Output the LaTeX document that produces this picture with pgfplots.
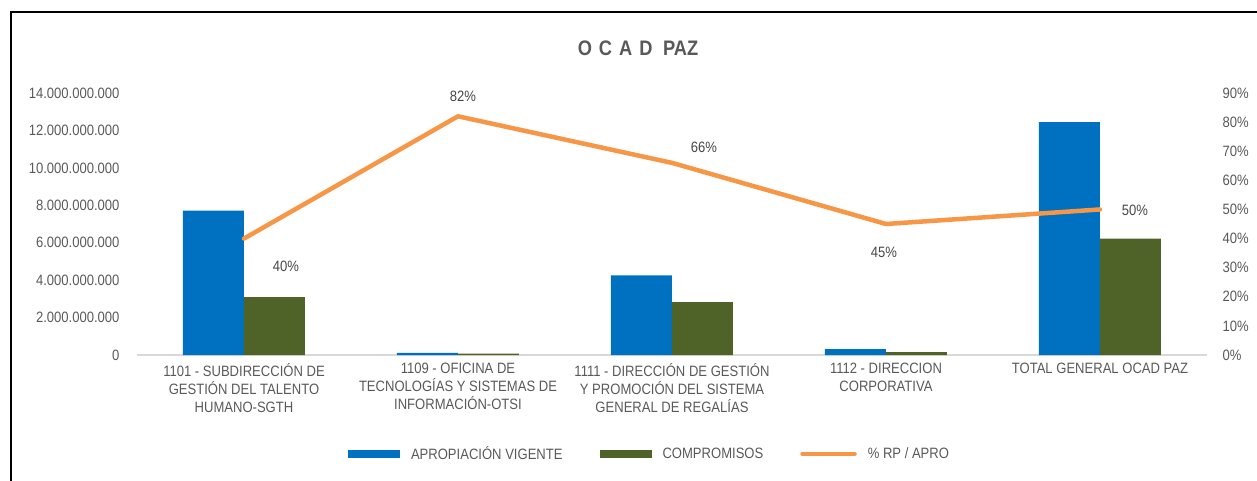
\documentclass[border=0pt]{standalone}
\usepackage{fontspec}
\setmainfont{Liberation Sans}[FakeStretch=0.87]
\usepackage{pgfplots}
\pgfplotsset{compat=1.18}
\usepackage{pgfplotstable}

\definecolor{barblue}{HTML}{0070C0}
\definecolor{bargreen}{HTML}{4F6228}
\definecolor{lineorange}{HTML}{F79646}
\definecolor{txtgray}{HTML}{595959}
\definecolor{axgray}{HTML}{D9D9D9}

% values per category (x = 0..4)
\pgfplotstableread{
x  apro        comp
0  7710000000  3090000000
1  110000000   70000000
2  4260000000  2820000000
3  320000000   150000000
4  12450000000 6220000000
}\bars

% % RP / APRO with label offsets (bp)
\pgfplotstableread{
x  pct  dx  dy
0  40   42  -28
1  82   5   20
2  66   32  16
3  45   -2  -28
4  50   35  -1
}\ratio

\pgfplotsset{
  common/.style={
    scale only axis, width=1070bp, height=262bp,
    xmin=-0.5, xmax=4.5,
    font=\fontsize{15bp}{18bp}\selectfont,
    tick label style={text=txtgray},
    major tick length=0pt,
    /pgf/number format/assume math mode=true,
  },
}

\begin{document}
\begin{tikzpicture}
\begin{axis}[common, name=main,
  ymin=0, ymax=14000000000,
  scaled y ticks=false,
  ytick={0,2000000000,4000000000,6000000000,8000000000,10000000000,12000000000,14000000000},
  yticklabels={0,2.000.000.000,4.000.000.000,6.000.000.000,8.000.000.000,10.000.000.000,12.000.000.000,14.000.000.000},
  yticklabel style={xshift=-14bp},
  xtick={0,1,2,3,4},
  xticklabels={{1101 - SUBDIRECCIÓN DE\\GESTIÓN DEL TALENTO\\HUMANO-SGTH},
    {1109 - OFICINA DE\\TECNOLOGÍAS Y SISTEMAS DE\\INFORMACIÓN-OTSI},
    {1111 - DIRECCIÓN DE GESTIÓN\\Y PROMOCIÓN DEL SISTEMA\\GENERAL DE REGALÍAS},
    {1112 - DIRECCION\\CORPORATIVA},
    {TOTAL GENERAL OCAD PAZ}},
  xticklabel style={align=center, yshift=-5bp, font=\fontsize{15bp}{18bp}\selectfont},
  axis y line*=left, axis x line*=bottom,
  y axis line style={draw=none},
  x axis line style={draw=axgray, line width=1.5bp, -},
  ybar, bar width=61bp,
  legend columns=3,
  legend style={draw=none, fill=none, at={(0.479,-0.377)}, anchor=center,
    font=\fontsize{15bp}{18bp}\selectfont, text=txtgray,
    /tikz/every odd column/.append style={column sep=9bp},
    /tikz/every even column/.append style={column sep=35bp}},
  clip=false,
]
\addplot[fill=barblue, draw=none, bar shift=-30.5bp,
  legend image code/.code={\fill[barblue] (0bp,-4bp) rectangle (52bp,4bp);}]
  table[x=x, y=apro] {\bars};
\addlegendentry{APROPIACIÓN VIGENTE}
\addplot[fill=bargreen, draw=none, bar shift=30.5bp,
  legend image code/.code={\fill[bargreen] (0bp,-4bp) rectangle (52bp,4bp);}]
  table[x=x, y=comp] {\bars};
\addlegendentry{COMPROMISOS}
\addlegendimage{legend image code/.code={\draw[lineorange, line width=4.5bp, line cap=round] (0bp,0bp) -- (52bp,0bp);}}
\addlegendentry{\% RP / APRO}
\end{axis}

\begin{axis}[common,
  ymin=0, ymax=90,
  ytick={0,10,...,90},
  yticklabel={\pgfmathprintnumber{\tick}\%},
  yticklabel style={anchor=west, xshift=12bp},
  axis y line*=right, axis x line=none,
  y axis line style={draw=none},
  xtick=\empty,
  clip=false,
]
\addplot[lineorange, line width=4.5bp, line cap=round, line join=round,
  nodes near coords={\pgfmathprintnumber{\pgfplotspointmeta}\%},
  point meta=explicit,
  visualization depends on={\thisrow{dx} \as \dx},
  visualization depends on={\thisrow{dy} \as \dy},
  every node near coord/.append style={anchor=center, xshift=\dx bp, yshift=\dy bp,
    text=txtgray!80!black, font=\fontsize{15bp}{18bp}\selectfont}]
  table[x=x, y=pct, meta=pct] {\ratio};
\end{axis}

\node[font=\bfseries\fontsize{21bp}{24bp}\selectfont, text=txtgray]
  at ([shift={(501bp,307bp)}]main.south west) {O\,\,C\,\,A\,\,D\,\,\,PAZ};
\draw[black, line width=2bp] ([shift={(-126bp,-126bp)}]main.south west) |- ([shift={(1120bp,343bp)}]main.south west);
\pgfresetboundingbox
\path[use as bounding box] ([shift={(-137bp,-126bp)}]main.south west) rectangle ([shift={(1120bp,355bp)}]main.south west);
\end{tikzpicture}
\end{document}
